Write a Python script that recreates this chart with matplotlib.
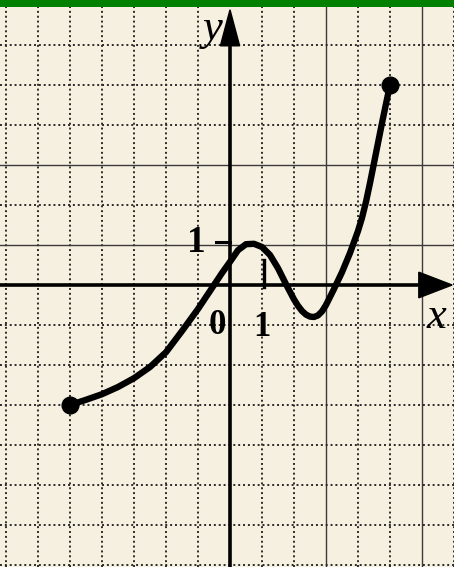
import matplotlib
matplotlib.use("Agg")
import matplotlib.pyplot as plt
from matplotlib.patches import Polygon, Rectangle

# points (x, y)
curve_x = [-5.0, -4.5, -4.0, -3.5, -3.0, -2.5, -2.0, -1.5, -1.0, -0.5, -0.25, 0.0,
           0.25, 0.5, 0.75, 1.0, 1.25, 1.5, 1.75, 2.0, 2.125, 2.25, 2.375, 2.5, 2.625,
           2.75, 2.875, 3.0, 3.25, 3.5, 3.75, 4.0, 4.125, 4.25, 4.375, 4.5, 4.625,
           4.75, 4.875, 5.0]
curve_y = [-3.0, -2.87, -2.73, -2.55, -2.33, -2.05, -1.68, -1.15, -0.6, 0.0, 0.3, 0.58,
           0.87, 1.02, 1.03, 0.95, 0.75, 0.42, 0.02, -0.36, -0.52, -0.65, -0.74, -0.79, -0.8,
           -0.76, -0.66, -0.5, -0.1, 0.32, 0.8, 1.35, 1.68, 2.08, 2.55, 3.05, 3.55,
           4.05, 4.53, 5.0]
end_x = [-5, 5]
end_y = [-3, 5]

grid_x = list(range(-7, 8))
grid_y = list(range(-7, 8))
solid_x = [3, 6]
solid_y = [1, 3]

W, H = 454, 567
fig = plt.figure(figsize=(W / 100, H / 100), dpi=100)
fig.patch.set_facecolor("#f6f0e0")
fig.patches.append(Rectangle((0, 1 - 7 / H), 1, 7 / H, transform=fig.transFigure,
                             facecolor="#008000", edgecolor="none", zorder=10))

ax = fig.add_axes([0, 0, 1, 1 - 7 / H])
ax.set_facecolor("#f6f0e0")
ax.set_xlim(-230 / 32, 224 / 32)
ax.set_ylim(-7.05, 6.95)
ax.axis("off")

# graph paper
for gx in grid_x:
    if gx == 0:
        continue
    if gx in solid_x:
        ax.axvline(gx, color="#3a3a3a", lw=1.0, zorder=1)
    else:
        ax.axvline(gx, color="#2a2a2a", lw=1.4, ls=(0, (1, 1.5)), zorder=1)
for gy in grid_y:
    if gy == 0:
        continue
    if gy in solid_y:
        ax.axhline(gy, color="#3a3a3a", lw=1.0, zorder=1)
    else:
        ax.axhline(gy, color="#2a2a2a", lw=1.4, ls=(0, (1, 1.5)), zorder=1)

# axes with arrows
ax.plot([-7.3, 5.95], [0, 0], color="black", lw=2.6, zorder=3)
ax.plot([0, 0], [-7.2, 6.0], color="black", lw=2.6, zorder=3)
ax.add_patch(Polygon([[6.94, 0], [5.9, 0.32], [5.9, -0.32]], closed=True,
                     color="black", zorder=3))
ax.add_patch(Polygon([[0, 6.88], [-0.3, 5.98], [0.3, 5.98]], closed=True,
                     color="black", zorder=3))

# ticks at 1
ax.plot([1.05, 1.05], [-0.05, 0.62], color="black", lw=2.4, zorder=3)
ax.plot([-0.45, 0], [1.08, 1.08], color="black", lw=2.2, zorder=3)

# curve
ax.plot(curve_x, curve_y, color="black", lw=4.6, solid_capstyle="round",
        solid_joinstyle="round", zorder=4)
ax.plot(end_x, end_y, "o", color="black", ms=12, zorder=5)

serif = ["Liberation Serif", "DejaVu Serif"]
ax.text(-0.55, 6.4, "y", fontsize=32, style="italic", family=serif,
        ha="center", va="center", zorder=6)
ax.text(6.45, -0.8, "x", fontsize=32, style="italic", family=serif,
        ha="center", va="center", zorder=6)
ax.text(-0.4, -1.0, "0", fontsize=25, weight="bold", family=serif,
        ha="center", va="center", zorder=6)
ax.text(1.0, -1.05, "1", fontsize=25, weight="bold", family=serif,
        ha="center", va="center", zorder=6)
ax.text(-1.05, 1.05, "1", fontsize=27, weight="bold", family=serif,
        ha="center", va="center", zorder=6)

fig.savefig("out.png", dpi=100, facecolor=fig.get_facecolor())
